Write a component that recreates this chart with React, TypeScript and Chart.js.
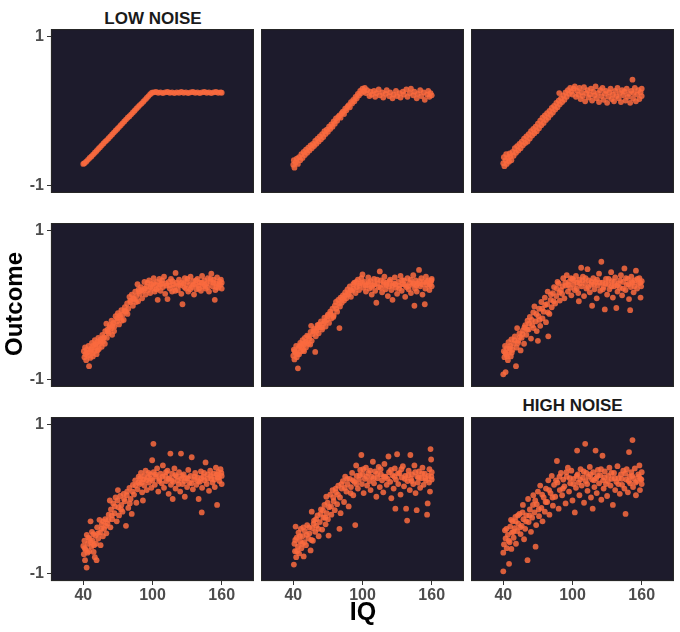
import React, { useEffect, useRef } from "react";
import { Chart, registerables } from "chart.js";

Chart.register(...registerables);

type Pt = [number, number];

// ---- data (IQ, Outcome) per panel ----
const LOW1: Pt[] = [[40,-0.71],[41,-0.70],[42.5,-0.68],[44,-0.655],[45.5,-0.63],[47,-0.61],[48.5,-0.585],[50,-0.56],[51.5,-0.535],[53,-0.51],[54.5,-0.485],[56,-0.46],[57.5,-0.435],[59,-0.41],[60.5,-0.39],[62,-0.365],[63.5,-0.34],[65,-0.315],[66.5,-0.29],[68,-0.265],[69.5,-0.24],[71,-0.215],[72.5,-0.19],[74,-0.165],[75.5,-0.14],[77,-0.115],[78.5,-0.09],[80,-0.07],[81.5,-0.045],[83,-0.02],[84.5,0.005],[86,0.03],[87.5,0.055],[89,0.08],[90.5,0.10],[92,0.125],[93.5,0.15],[95,0.175],[96.5,0.20],[98,0.225],[99.5,0.245],[101,0.25],[103,0.255],[105,0.245],[107,0.25],[109,0.24],[111,0.25],[113,0.255],[115,0.245],[117,0.25],[119,0.24],[121,0.25],[123,0.245],[125,0.255],[127,0.245],[129,0.25],[131,0.24],[133,0.25],[135,0.255],[137,0.245],[139,0.25],[141,0.24],[143,0.25],[145,0.255],[147,0.245],[149,0.25],[151,0.24],[153,0.25],[155,0.255],[157,0.245],[159,0.25],[160,0.245]];

const LOW2: Pt[] = [[40,-0.72],[40.5,-0.66],[41,-0.76],[42,-0.69],[43,-0.64],[44,-0.71],[45,-0.62],[46,-0.66],[47,-0.58],[48,-0.63],[49,-0.55],[50,-0.59],[51,-0.52],[52,-0.56],[53,-0.49],[54,-0.53],[55,-0.46],[56,-0.50],[57,-0.44],[58,-0.47],[59,-0.40],[60,-0.44],[61,-0.37],[62,-0.41],[63,-0.34],[64,-0.38],[65,-0.31],[66,-0.35],[67,-0.27],[68,-0.31],[69,-0.25],[70,-0.28],[71,-0.21],[72,-0.24],[73,-0.18],[74,-0.21],[75,-0.14],[76,-0.17],[77,-0.10],[78,-0.13],[79,-0.08],[80,-0.06],[81,-0.09],[82,-0.03],[83,-0.01],[84,-0.04],[85,0.03],[86,0.01],[87,0.06],[88,0.08],[89,0.05],[90,0.12],[91,0.10],[92,0.15],[93,0.13],[94,0.19],[95,0.17],[96,0.23],[97,0.21],[98,0.27],[99,0.24],[100,0.30],[101,0.26],[102,0.31],[103,0.24],[104,0.28],[106,0.20],[107,0.26],[108,0.22],[110,0.27],[111,0.19],[112,0.24],[114,0.29],[115,0.21],[117,0.25],[118,0.18],[120,0.23],[121,0.28],[123,0.20],[124,0.25],[126,0.17],[127,0.22],[129,0.27],[130,0.20],[132,0.24],[133,0.18],[135,0.26],[136,0.22],[138,0.29],[139,0.19],[141,0.24],[142,0.30],[144,0.21],[145,0.26],[147,0.17],[148,0.23],[150,0.28],[151,0.20],[153,0.25],[154,0.15],[156,0.22],[157,0.27],[158,0.19],[159,0.24],[160,0.21]];

const LOW3: Pt[] = [[40,-0.70],[40.5,-0.62],[41,-0.74],[42,-0.66],[42.5,-0.58],[43,-0.71],[44,-0.63],[45,-0.68],[45.5,-0.57],[46,-0.61],[47,-0.66],[48,-0.55],[49,-0.60],[50,-0.50],[51,-0.56],[52,-0.47],[53,-0.53],[54,-0.44],[55,-0.50],[56,-0.41],[57,-0.46],[58,-0.37],[59,-0.43],[60,-0.34],[61,-0.41],[62,-0.31],[63,-0.37],[64,-0.27],[65,-0.33],[66,-0.24],[67,-0.30],[68,-0.21],[69,-0.27],[70,-0.17],[71,-0.23],[72,-0.13],[73,-0.19],[74,-0.09],[75,-0.16],[76,-0.06],[77,-0.12],[78,-0.03],[79,-0.09],[80,0.00],[81,-0.05],[82,0.04],[83,-0.02],[84,0.07],[85,0.02],[86,0.11],[87,0.05],[88,0.14],[88.5,0.24],[89,0.09],[90,0.17],[91,0.12],[92,0.21],[93,0.15],[94,0.25],[95,0.19],[96,0.28],[97,0.23],[98,0.31],[99,0.26],[100,0.22],[101,0.30],[102,0.33],[103,0.19],[104,0.27],[105,0.22],[106,0.31],[107,0.16],[108,0.25],[109,0.20],[110,0.32],[111,0.13],[112,0.24],[113,0.28],[114,0.18],[115,0.22],[116,0.30],[117,0.14],[118,0.26],[119,0.21],[120,0.33],[121,0.17],[122,0.24],[123,0.12],[124,0.28],[125,0.20],[126,0.31],[127,0.15],[128,0.23],[129,0.27],[130,0.11],[131,0.19],[132,0.25],[133,0.30],[134,0.16],[135,0.22],[136,0.13],[137,0.27],[138,0.20],[139,0.31],[140,0.17],[141,0.24],[142,0.12],[143,0.28],[144,0.21],[145,0.26],[146,0.14],[147,0.30],[148,0.19],[149,0.23],[150,0.11],[151,0.27],[152,0.42],[152.5,0.17],[153,0.24],[154,0.31],[155,0.13],[156,0.22],[157,0.28],[158,0.16],[159,0.25],[160,0.20],[160,0.30]];

const MID4: Pt[] = [[40.5,-0.62],[41,-0.70],[41.5,-0.57],[42,-0.66],[42.5,-0.74],[43,-0.60],[44,-0.68],[44.5,-0.55],[45,-0.82],[45.5,-0.63],[46,-0.71],[47,-0.58],[47.5,-0.51],[48,-0.65],[49,-0.54],[49.5,-0.62],[50,-0.47],[51,-0.57],[51.5,-0.66],[52,-0.50],[53,-0.44],[53.5,-0.59],[54,-0.52],[55,-0.46],[56,-0.56],[56.5,-0.40],[57,-0.49],[58,-0.43],[59,-0.35],[60,-0.25],[60.5,-0.44],[61,-0.33],[62,-0.38],[63,-0.27],[64,-0.32],[64.5,-0.21],[65,-0.40],[66,-0.24],[67,-0.29],[68,-0.15],[69,-0.22],[70,-0.11],[71,-0.26],[72,-0.17],[73,-0.07],[74,-0.13],[75,-0.20],[76,-0.03],[77,-0.09],[78,0.02],[79,-0.05],[80,0.11],[81,0.04],[82,0.14],[83,-0.01],[84,0.08],[85,0.18],[86,0.12],[87,0.28],[87.5,0.05],[88,0.21],[89,0.15],[90,0.24],[91,0.09],[92,0.19],[93,0.31],[94,0.14],[95,0.25],[96,0.20],[97,0.33],[98,0.16],[99,0.28],[100,0.22],[101,0.36],[102,0.18],[103,0.27],[104,0.31],[104.5,0.07],[105,0.23],[106,0.35],[107,0.19],[108,0.29],[109,0.24],[110,0.38],[111,0.15],[112,0.26],[113,0.08],[114,0.31],[115,0.22],[116,0.35],[117,0.18],[118,0.28],[119,0.24],[120,0.43],[121,0.30],[122,0.20],[123,0.34],[124,0.26],[125,0.15],[126,0.01],[127,0.29],[128,0.36],[129,0.22],[130,0.31],[131,0.18],[132,0.27],[133,0.38],[134,0.24],[135,0.32],[136,0.14],[137,0.28],[138,0.21],[139,0.35],[140,0.26],[141,0.30],[142,0.19],[143,0.39],[144,0.25],[145,0.33],[146,0.22],[147,0.29],[148,0.36],[149,0.18],[150,0.31],[151,0.42],[152,0.25],[153,0.34],[154,0.07],[154.5,0.20],[155,0.29],[156,0.37],[157,0.23],[158,0.32],[159,0.27],[160,0.30],[160,0.22]];
const MID4_MORE: Pt[] = [[43.3,-0.64],[46.7,-0.60],[48.3,-0.69],[50.7,-0.53],[52.3,-0.61],[54.7,-0.49],[57.3,-0.45],[58.7,-0.52],[61.3,-0.36],[62.7,-0.30],[65.3,-0.28],[66.7,-0.35],[69.3,-0.18],[71.7,-0.14],[73.3,-0.21],[75.7,-0.08],[78.3,-0.12],[80.7,0.06],[83.3,0.09],[85.7,0.04],[88.3,0.18],[90.7,0.20],[93.3,0.22],[95.7,0.30],[98.3,0.24],[100.7,0.29],[103.3,0.21],[106.7,0.27],[108.3,0.33],[111.7,0.29],[114.7,0.26],[117.3,0.32],[119.7,0.19],[122.7,0.27],[125.3,0.30],[127.7,0.24],[130.3,0.35],[132.7,0.21],[135.3,0.27],[137.7,0.33],[140.3,0.22],[142.7,0.30],[145.3,0.27],[147.7,0.24],[150.3,0.35],[152.7,0.30],[155.3,0.24],[157.7,0.28],[159.3,0.34]];

const MID5: Pt[] = [[40,-0.68],[40.5,-0.60],[41,-0.73],[42,-0.64],[42.5,-0.55],[43,-0.70],[44,-0.85],[44.5,-0.58],[45,-0.66],[46,-0.51],[46.5,-0.62],[47,-0.56],[48,-0.47],[48.5,-0.60],[49,-0.53],[50,-0.44],[51,-0.57],[51.5,-0.49],[52,-0.41],[53,-0.52],[54,-0.45],[55,-0.36],[55.5,-0.28],[56,-0.48],[57,-0.39],[58,-0.32],[59,-0.63],[59.5,-0.42],[60,-0.35],[61,-0.27],[62,-0.38],[63,-0.30],[64,-0.22],[65,-0.33],[66,-0.25],[67,-0.17],[68,-0.29],[69,-0.20],[70,-0.13],[71,-0.24],[72,-0.09],[73,-0.18],[74,-0.05],[75,-0.14],[76,-0.01],[77,0.04],[78,-0.09],[79,0.07],[80,-0.31],[80.5,-0.02],[81,0.10],[82,0.03],[83,0.13],[84,0.06],[85,0.17],[86,0.09],[87,0.21],[88,0.14],[89,0.25],[90,0.11],[91,0.19],[92,0.28],[93,0.30],[94,0.16],[95,0.24],[96,0.34],[97,0.20],[98,0.29],[99,0.36],[100,0.41],[101,0.23],[102,0.31],[103,0.18],[104,0.27],[105,0.37],[106,0.22],[107,0.32],[108,0.14],[109,0.26],[110,0.35],[111,0.19],[112,0.03],[113,0.29],[114,0.24],[115,0.45],[116,0.33],[117,0.17],[118,0.27],[119,0.38],[120,0.21],[121,0.30],[122,0.12],[123,0.25],[124,0.34],[125,0.20],[126,0.07],[127,0.29],[128,0.37],[129,0.23],[130,0.15],[131,0.31],[132,0.26],[133,0.39],[134,0.19],[135,0.28],[136,0.33],[137,0.11],[138,0.24],[139,0.36],[140,0.21],[141,0.30],[142,0.16],[143,0.27],[144,0.40],[145,-0.01],[145.5,0.22],[146,0.33],[147,0.18],[148,0.29],[149,0.47],[150,0.25],[151,0.36],[152,0.14],[153,0.31],[154,0.01],[154.5,0.22],[155,0.38],[156,0.27],[157,0.33],[158,0.20],[159,0.30],[160,0.35],[160,0.25]];
const MID5_MORE: Pt[] = [[41.3,-0.62],[43.7,-0.66],[45.3,-0.55],[47.7,-0.52],[49.3,-0.62],[50.7,-0.50],[53.3,-0.42],[54.7,-0.53],[57.7,-0.35],[60.7,-0.31],[62.3,-0.26],[64.7,-0.30],[67.3,-0.22],[69.7,-0.15],[72.3,-0.12],[74.7,-0.16],[77.3,-0.05],[79.7,0.02],[82.3,0.08],[84.7,0.12],[87.3,0.16],[89.7,0.20],[92.3,0.22],[94.7,0.31],[97.3,0.26],[99.7,0.30],[102.7,0.26],[105.3,0.30],[107.7,0.24],[110.3,0.28],[112.7,0.34],[115.7,0.23],[118.3,0.31],[120.7,0.27],[123.3,0.32],[125.7,0.26],[128.3,0.28],[131.7,0.22],[134.3,0.33],[136.7,0.27],[139.3,0.25],[141.7,0.34],[144.3,0.29],[146.7,0.26],[149.3,0.32],[151.7,0.28],[155.7,0.31],[158.3,0.27],[159.7,0.33]];

const MID6: Pt[] = [[40,-0.93],[40.5,-0.62],[41,-0.70],[41.5,-0.55],[42,-0.90],[42.5,-0.66],[43,-0.58],[44,-0.74],[44.5,-0.50],[45,-0.63],[46,-0.55],[46.5,-0.69],[47,-0.46],[48,-0.60],[49,-0.52],[50,-0.42],[51,-0.82],[51.5,-0.57],[52,-0.31],[53,-0.48],[54,-0.38],[55,-0.61],[56,-0.44],[57,-0.34],[58,-0.52],[59,-0.27],[60,-0.40],[61,-0.21],[62,-0.33],[63,-0.16],[64,-0.45],[65,-0.27],[66,-0.10],[67,-0.02],[68,-0.22],[69,-0.35],[70,-0.48],[70.5,-0.15],[71,-0.05],[72,-0.28],[73,0.04],[74,-0.18],[75,-0.09],[76,0.10],[77,-0.23],[78,0.01],[78.5,0.18],[79,-0.42],[80,-0.12],[81,0.07],[82,-0.03],[83,0.16],[84,0.24],[85,0.02],[86,0.12],[87,0.31],[88,0.29],[89,0.06],[90,0.20],[91,0.15],[92,0.36],[93,0.09],[94,0.26],[95,0.40],[96,0.18],[97,0.31],[98,0.23],[99,0.13],[100,0.35],[101,0.27],[102,0.20],[103,0.39],[104,0.30],[105,0.16],[105.5,0.05],[106,0.34],[107.5,0.50],[108,0.25],[109,0.38],[110,0.12],[111,0.29],[112,0.22],[113,0.48],[114,0.33],[115,0.17],[116,0.27],[117,-0.01],[118,0.36],[119,0.21],[120,0.31],[121,0.09],[122,0.26],[123,0.42],[124,0.19],[125,0.58],[126,0.30],[127,0.24],[128,-0.06],[129,0.35],[130,0.14],[131,0.28],[132,0.21],[133.5,0.44],[134,0.32],[135,0.10],[136,0.25],[137,0.37],[138,-0.04],[139,0.18],[140,0.29],[141,0.23],[142,0.40],[143,0.13],[144,0.31],[145,0.49],[146,0.20],[147,0.27],[148,0.35],[149,0.08],[150,-0.07],[150.5,0.24],[151,0.38],[152,0.30],[153,0.17],[154,0.33],[155,0.46],[156,0.22],[157,0.29],[158,0.36],[159,0.10],[159.5,0.25],[160,0.32]];
const MID6_MORE: Pt[] = [[41.7,-0.64],[43.3,-0.69],[45.7,-0.58],[47.3,-0.64],[49.7,-0.47],[52.7,-0.51],[54.3,-0.43],[56.7,-0.39],[58.3,-0.30],[60.7,-0.33],[62.3,-0.25],[64.7,-0.20],[66.3,-0.31],[68.7,-0.12],[71.3,-0.20],[73.7,-0.05],[76.3,0.00],[78.7,-0.10],[81.3,0.14],[83.7,0.05],[86.3,0.22],[88.7,0.17],[91.3,0.25],[93.7,0.30],[96.3,0.27],[98.7,0.36],[101.3,0.33],[103.7,0.22],[106.3,0.29],[108.7,0.33],[111.3,0.36],[113.7,0.24],[116.3,0.31],[118.7,0.28],[121.3,0.34],[123.7,0.30],[126.3,0.21],[128.7,0.29],[131.3,0.35],[133.7,0.25],[136.3,0.31],[138.7,0.26],[141.3,0.33],[143.7,0.22],[146.3,0.36],[148.7,0.28],[151.3,0.31],[153.7,0.25],[156.3,0.35],[158.7,0.30]];

const HIGH7: Pt[] = [[40,-0.63],[40.5,-0.74],[41,-0.56],[41.5,-0.82],[42,-0.68],[42.9,-0.92],[43,-0.48],[44,-0.60],[45,-0.70],[45.5,-0.53],[46.3,-0.30],[47,-0.64],[47.5,-0.44],[48,-0.56],[49,-0.71],[50,-0.78],[50.5,-0.49],[51,-0.60],[51.5,-0.82],[52,-0.38],[53,-0.53],[54,-0.28],[54.5,-0.45],[55,-0.62],[56,-0.34],[57,-0.50],[58,-0.40],[59,-0.27],[60,-0.46],[61,-0.33],[62,-0.21],[63,-0.02],[63.5,-0.38],[64,-0.14],[65,-0.27],[66,-0.06],[67,-0.19],[68,0.02],[69,-0.30],[70,0.12],[70.5,-0.11],[71,-0.22],[72,0.04],[73,-0.08],[74,-0.17],[75,0.07],[76,-0.03],[77,-0.36],[78,0.10],[79,-0.12],[80,0.15],[81,0.00],[82,-0.20],[83,0.19],[84,0.06],[85,0.25],[86,-0.05],[87,0.13],[88,0.30],[89,0.20],[90,0.35],[91,0.09],[91.7,-0.02],[92,0.26],[93,0.18],[94,0.38],[95,0.12],[96,0.29],[97,0.22],[98,0.33],[99,0.15],[99.7,0.52],[100,0.25],[100.8,0.74],[101,0.36],[102,0.19],[103,0.30],[104,0.41],[105,0.10],[106,0.27],[107,0.34],[108,0.21],[109,0.45],[110,0.15],[111,0.31],[112,0.24],[113,0.38],[114,0.07],[115,0.28],[115.5,0.61],[116,0.19],[117,0.34],[117.5,0.00],[118,0.23],[119,0.41],[120,0.14],[121,0.30],[122,0.25],[123,0.36],[124,0.10],[124.7,0.61],[125,0.27],[126,0.20],[127,0.33],[128,0.03],[129,0.28],[130,0.16],[131,0.39],[132,0.22],[133,0.31],[134,0.56],[135,0.13],[136,0.26],[137,0.35],[138,0.19],[139,0.29],[140,0.00],[141,0.23],[142,0.37],[142.7,-0.18],[143,0.15],[144,0.30],[145,0.25],[146,0.49],[147,0.20],[148,0.33],[149,0.11],[150,0.38],[151,0.27],[152,0.22],[153,0.34],[154,0.16],[155,0.42],[156,-0.08],[156.5,0.29],[157,0.36],[158,0.24],[159,0.40],[160,0.31],[160,0.20]];
const HIGH7_MORE: Pt[] = [[41.3,-0.66],[43.7,-0.72],[44.3,-0.52],[46.7,-0.58],[48.7,-0.47],[49.3,-0.62],[52.7,-0.46],[55.7,-0.40],[57.3,-0.30],[59.7,-0.36],[61.7,-0.28],[64.7,-0.22],[67.3,-0.10],[69.7,-0.02],[72.7,-0.14],[75.3,0.00],[77.7,0.05],[80.3,-0.06],[82.7,0.10],[85.3,0.18],[87.7,0.22],[89.3,0.28],[90.7,0.22],[92.7,0.31],[94.7,0.25],[96.7,0.35],[98.7,0.27],[102.7,0.33],[105.7,0.24],[108.7,0.30],[111.7,0.36],[113.7,0.27],[116.7,0.25],[119.7,0.32],[122.7,0.20],[125.7,0.31],[127.7,0.24],[130.7,0.28],[133.7,0.21],[136.7,0.30],[139.7,0.24],[142.3,0.28],[144.7,0.35],[147.7,0.27],[150.7,0.31],[153.7,0.26],[155.7,0.33],[157.7,0.29],[159.7,0.35]];

const HIGH8: Pt[] = [[40.5,-0.88],[41,-0.60],[41.5,-0.70],[42,-0.37],[42.5,-0.78],[43,-0.52],[44,-0.64],[44.5,-0.45],[45,-0.73],[46,-0.57],[46.5,-0.40],[47,-0.66],[48,-0.50],[49,-0.77],[49.5,-0.58],[50,-0.43],[51,-0.62],[52,-0.35],[53,-0.53],[54,-0.46],[55,-0.69],[56,-0.17],[56.5,-0.39],[57,-0.56],[58,-0.29],[59,-0.44],[60,-0.36],[61,-0.22],[62,-0.50],[63,-0.31],[64,-0.14],[65,-0.41],[66,-0.25],[67,-0.08],[68,-0.34],[68.6,0.03],[69,-0.19],[70,-0.27],[70.6,-0.49],[71,-0.11],[72,0.06],[73,-0.21],[74,0.12],[75,-0.03],[76,-0.15],[77,0.09],[78,-0.07],[79,0.18],[80,-0.40],[80.5,0.02],[81,-0.19],[82,0.14],[83,0.24],[84,-0.04],[85,0.30],[86,0.10],[87,0.20],[88,-0.10],[89,0.27],[90,0.16],[91,0.35],[92,0.05],[93,0.23],[93.7,-0.35],[94.5,0.45],[95,0.31],[96,0.14],[97,0.26],[98,0.39],[99,0.59],[99.5,0.20],[100,0.33],[101,0.08],[102,0.27],[103,0.42],[104,0.18],[105,0.35],[106,0.24],[107,0.12],[108,0.30],[109,0.50],[110,0.21],[111,0.37],[112,0.03],[113,0.28],[114,0.43],[115,0.16],[116,0.33],[117,0.25],[118,0.09],[119,0.47],[120,0.30],[121,0.19],[122.5,0.57],[123,0.36],[124,0.23],[125,0.01],[126,0.32],[127,0.14],[128,0.41],[128.5,-0.13],[129,0.26],[130,0.60],[131,0.20],[132,0.35],[133,0.06],[134,0.29],[135,0.44],[136,0.17],[137,0.31],[137.8,-0.13],[138.7,-0.29],[139,0.24],[140,0.38],[141,0.12],[141.5,0.59],[142,0.27],[143,0.33],[144,0.20],[145,0.45],[146,0.08],[147,-0.15],[147.5,0.30],[148,0.22],[149,0.37],[150,0.15],[151,0.28],[152,0.42],[153,0.19],[154,0.34],[155,0.25],[156,-0.21],[156.5,-0.06],[157,0.31],[158,0.40],[158.5,0.10],[159,0.67],[159.5,0.53],[160,0.26],[160,0.36]];
const HIGH8_MORE: Pt[] = [[41.7,-0.55],[43.3,-0.70],[45.7,-0.50],[47.7,-0.60],[48.7,-0.38],[51.7,-0.48],[53.7,-0.38],[55.7,-0.55],[57.7,-0.33],[59.7,-0.27],[61.7,-0.40],[63.7,-0.20],[65.7,-0.15],[67.7,-0.25],[69.7,-0.05],[72.7,-0.10],[74.7,0.02],[76.7,0.14],[78.7,0.06],[81.7,0.20],[84.7,0.15],[86.7,0.27],[89.7,0.08],[91.7,0.25],[94.7,0.20],[97.7,0.32],[100.7,0.40],[103.7,0.30],[106.7,0.38],[109.7,0.28],[112.7,0.34],[115.7,0.40],[118.7,0.30],[121.7,0.27],[124.7,0.39],[127.7,0.30],[130.7,0.34],[133.7,0.40],[136.7,0.27],[139.7,0.32],[142.7,0.24],[145.7,0.36],[148.7,0.29],[151.7,0.34],[154.7,0.28],[157.7,0.22],[159.7,0.30]];

const HIGH9: Pt[] = [[40,-0.97],[40,-0.72],[40.6,-0.61],[41.4,-0.42],[42,-0.53],[43,-0.66],[44,-0.48],[45,-0.87],[45.5,-0.58],[46,-0.37],[47,-0.67],[47.5,-0.45],[48,-0.30],[49,-0.52],[50,-0.39],[50.5,-0.24],[51,-0.60],[52,-0.43],[53,-0.33],[54,-0.20],[55,-0.47],[56,-0.36],[57,-0.08],[57.5,-0.27],[58,-0.54],[59,-0.40],[60,-0.22],[61,-0.82],[61.5,0.00],[62,-0.31],[63,-0.14],[64,-0.44],[65,-0.25],[66,0.05],[67,-0.18],[68,-0.64],[68.5,-0.35],[69,-0.07],[70,0.10],[71,-0.23],[72,0.18],[73,-0.12],[74,-0.30],[75,0.02],[76,-0.17],[77,0.14],[78,-0.04],[79,0.25],[80,-0.21],[81,0.08],[82,0.31],[83,-0.09],[84,0.19],[85,0.03],[86.5,0.51],[87,0.22],[88,-0.13],[89,0.12],[90,0.35],[91,0.05],[92,0.26],[93,0.17],[94,-0.06],[95,0.30],[96,0.42],[97,0.10],[98,0.21],[99,0.38],[100,-0.02],[101,0.27],[102,-0.18],[103,0.15],[104,0.65],[104.5,0.33],[105,0.22],[106,0.05],[107,0.40],[108,0.18],[109,0.29],[110,-0.05],[111,0.74],[111.5,0.24],[112,0.35],[113,0.11],[114,0.30],[115,0.43],[116,0.02],[117,0.26],[117.5,-0.13],[118,0.36],[119,0.16],[120,0.65],[120.5,0.28],[121,0.08],[122,0.39],[123,0.21],[124,0.32],[125,-0.01],[126,0.58],[126.5,0.25],[127,0.14],[128,0.37],[129,0.20],[130,0.04],[131,0.31],[132,0.42],[133,0.18],[134,0.27],[135,-0.08],[136,0.35],[137,0.12],[138,0.23],[139,0.44],[140,0.28],[141,0.07],[142,0.33],[143,0.19],[144,0.38],[145,0.14],[146,-0.20],[146.5,0.26],[147,0.40],[148,0.09],[149,0.63],[149.5,0.30],[150,0.21],[151,0.36],[152,0.79],[152.5,0.16],[153,0.28],[154,0.41],[155,0.05],[156,0.24],[157,0.33],[158,0.45],[158.5,0.12],[159,0.27],[160,0.20],[160,0.36]];
const HIGH9_MORE: Pt[] = [[42.7,-0.40],[44.7,-0.56],[46.7,-0.28],[48.7,-0.44],[50.7,-0.30],[52.7,-0.22],[54.7,-0.38],[56.7,-0.18],[59.7,-0.30],[62.7,-0.22],[65.7,-0.08],[67.7,-0.02],[70.7,-0.14],[73.7,0.06],[76.7,-0.04],[79.7,0.12],[82.7,0.02],[85.7,0.25],[88.7,0.30],[91.7,0.14],[94.7,0.36],[97.7,0.28],[100.7,0.20],[103.7,0.31],[106.7,0.26],[109.7,0.37],[112.7,0.20],[115.7,0.33],[118.7,0.25],[121.7,0.31],[124.7,0.40],[127.7,0.29],[130.7,0.24],[133.7,0.35],[136.7,0.28],[139.7,0.20],[142.7,0.27],[145.7,0.34],[148.7,0.24],[151.7,0.31],[154.7,0.22],[157.7,0.30],[159.7,0.26]];

const PANELS: Pt[][] = [
  LOW1, LOW2, LOW3,
  [...MID4, ...MID4_MORE], [...MID5, ...MID5_MORE], [...MID6, ...MID6_MORE],
  [...HIGH7, ...HIGH7_MORE], [...HIGH8, ...HIGH8_MORE], [...HIGH9, ...HIGH9_MORE],
];
const X_TICKS = [40, 100, 160];
const Y_TICKS = [-1, 1];
const X_LABEL = "IQ";
const Y_LABEL = "Outcome";
const TOP_TITLE = "LOW NOISE";
const BOTTOM_TITLE = "HIGH NOISE";

// ---- layout / style ----
const X_MIN = 12, X_MAX = 188, Y_MIN = -1.1, Y_MAX = 1.1;
const COL_LEFT = [51, 261, 471];
const ROW_TOP = [29, 223, 417];
const PANEL_W = 203;
const PANEL_H = 164;
const Y_AXIS_W = 51;
const X_AXIS_H = 40;
const PANEL_BG = "#1d1b2c";
const POINT_COLOR = "rgba(250,106,62,0.85)";
const FONT = "'Liberation Sans', Arial, Helvetica, sans-serif";
const TICK_COLOR = "#4d4d4d";

const framePlugin = {
  id: "panelFrame",
  beforeDraw(chart: any) {
    const { ctx, chartArea: a } = chart;
    ctx.save();
    ctx.fillStyle = PANEL_BG;
    ctx.fillRect(a.left, a.top, a.right - a.left, a.bottom - a.top);
    ctx.restore();
  },
  afterDraw(chart: any) {
    const { ctx, chartArea: a } = chart;
    ctx.save();
    ctx.strokeStyle = "#262626";
    ctx.lineWidth = 1.2;
    ctx.strokeRect(a.left + 0.5, a.top + 0.5, a.right - a.left - 1, a.bottom - a.top - 1);
    ctx.restore();
  },
};

function zeroPad(s: any) {
  s.paddingTop = 0;
  s.paddingBottom = 0;
  s.paddingLeft = 0;
  s.paddingRight = 0;
}

function Panel({ idx }: { idx: number }) {
  const ref = useRef<HTMLCanvasElement>(null);
  const r = Math.floor(idx / 3);
  const c = idx % 3;
  const showY = c === 0;
  const showX = r === 2;
  const left = COL_LEFT[c] - (showY ? Y_AXIS_W : 0);
  const top = ROW_TOP[r];
  const w = PANEL_W + (showY ? Y_AXIS_W : 0);
  const h = PANEL_H + (showX ? X_AXIS_H : 0);

  useEffect(() => {
    if (!ref.current) return;
    const tickFont = { family: FONT, size: 16, weight: "bold" as const };
    const chart = new Chart(ref.current, {
      type: "scatter",
      data: {
        datasets: [
          {
            data: PANELS[idx].map(([x, y]) => ({ x, y })),
            backgroundColor: POINT_COLOR,
            borderWidth: 0,
            pointRadius: 2.9,
            pointHoverRadius: 2.9,
          },
        ],
      },
      options: {
        animation: false,
        responsive: false,
        maintainAspectRatio: false,
        devicePixelRatio: 1,
        events: [],
        layout: { padding: 0, autoPadding: false },
        plugins: { legend: { display: false }, tooltip: { enabled: false }, title: { display: false } },
        scales: {
          x: {
            type: "linear",
            min: X_MIN,
            max: X_MAX,
            display: showX,
            afterBuildTicks: (s: any) => {
              s.ticks = X_TICKS.map((v) => ({ value: v }));
            },
            afterFit: (s: any) => {
              s.height = showX ? X_AXIS_H : 0;
              zeroPad(s);
            },
            grid: { drawOnChartArea: false, drawTicks: true, tickLength: 4, color: "#333333", lineWidth: 1 },
            border: { display: false },
            ticks: { font: tickFont, color: TICK_COLOR, padding: 1, maxRotation: 0, autoSkip: false },
          },
          y: {
            type: "linear",
            min: Y_MIN,
            max: Y_MAX,
            display: showY,
            afterBuildTicks: (s: any) => {
              s.ticks = Y_TICKS.map((v) => ({ value: v }));
            },
            afterFit: (s: any) => {
              s.width = showY ? Y_AXIS_W : 0;
              zeroPad(s);
            },
            grid: { drawOnChartArea: false, drawTicks: true, tickLength: 4, color: "#333333", lineWidth: 1 },
            border: { display: false },
            ticks: { font: tickFont, color: TICK_COLOR, padding: 3, autoSkip: false },
          },
        },
      },
      plugins: [framePlugin],
    });
    return () => chart.destroy();
  }, [idx]);

  return (
    <canvas
      ref={ref}
      width={w}
      height={h}
      style={{ position: "absolute", left, top, width: w, height: h, display: "block" }}
    />
  );
}

export default function App() {
  const textBase: React.CSSProperties = {
    position: "absolute",
    fontFamily: FONT,
    fontWeight: "bold",
    color: "#1a1a1a",
    whiteSpace: "nowrap",
    transform: "translate(-50%, -50%)",
    lineHeight: 1,
  };
  return (
    <div style={{ position: "absolute", left: 0, top: 0, width: 680, height: 632, background: "#ffffff", overflow: "hidden" }}>
      {PANELS.map((_, i) => (
        <Panel key={i} idx={i} />
      ))}
      <div style={{ ...textBase, left: 153, top: 18, fontSize: 17 }}>{TOP_TITLE}</div>
      <div style={{ ...textBase, left: 572.5, top: 405, fontSize: 17 }}>{BOTTOM_TITLE}</div>
      <div style={{ ...textBase, left: 363, top: 611, fontSize: 25, color: "#000" }}>{X_LABEL}</div>
      <div style={{ ...textBase, left: 14, top: 304, fontSize: 24, color: "#000", transform: "translate(-50%, -50%) rotate(-90deg)" }}>{Y_LABEL}</div>
    </div>
  );
}
